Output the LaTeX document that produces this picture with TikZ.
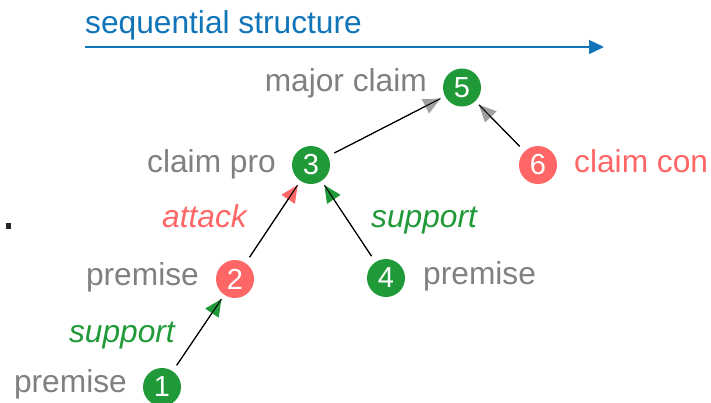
\documentclass[tikz,border=0pt]{standalone}
\usepackage{fontspec}
\setmainfont{Liberation Sans}
\usetikzlibrary{arrows.meta}
\definecolor{seqblue}{RGB}{16,116,184}
\definecolor{argreen}{RGB}{32,154,56}
\definecolor{arred}{RGB}{255,102,102}
\definecolor{argray}{RGB}{128,128,128}
\definecolor{headgray}{RGB}{160,160,160}
\tikzset{
  lbl/.style={inner sep=0pt, font=\fontsize{31.7}{36}\selectfont},
  graylbl/.style={lbl, text=argray},
  num/.style={circle, inner sep=0pt, minimum size=38pt, text=white, font=\fontsize{29}{32}\selectfont},
  greennum/.style={num, fill=argreen},
  rednum/.style={num, fill=arred},
  rel/.style={black, line width=1pt, shorten <=7pt, shorten >=5pt, postaction={draw, -}},
  gtip/.style={rel, -{Triangle[length=17pt,width=16pt,color=headgray]}},
  rtip/.style={rel, -{Triangle[length=17pt,width=16pt,color=arred]}},
  stip/.style={rel, -{Triangle[length=17pt,width=16pt,color=argreen]}}
}
\begin{document}
\begin{tikzpicture}[x=1pt,y=-1pt]
\useasboundingbox (0,0) rectangle (711,402);
% sequential structure
\node[lbl, text=seqblue, anchor=base west] (seq) at (85,33) {sequential structure};
\coordinate (seqa) at (85,47);
\coordinate (seqb) at (604,47);
\draw[seqblue, line width=1.5pt, -{Triangle[length=15pt,width=14pt]}] (seqa) -- (seqb);
% nodes
\node[greennum] (n5) at (462,87.5) {5};
\node[greennum] (n3) at (311,165) {3};
\node[rednum] (n6) at (538,165) {6};
\node[rednum] (n2) at (235,279) {2};
\node[greennum] (n4) at (386,278) {4};
\node[greennum] (n1) at (162,387) {1};
% labels
\node[graylbl, anchor=base east] (l5) at (427,91) {major claim};
\node[graylbl, anchor=base east] (l3) at (276,172) {claim pro};
\node[lbl, text=arred, anchor=base west] (l6) at (574,172) {claim con};
\node[graylbl, anchor=base east] (l2) at (199,285) {premise};
\node[graylbl, anchor=base west] (l4) at (423,284) {premise};
\node[graylbl, anchor=base east] (l1) at (127,392) {premise};
\node[lbl, text=arred, anchor=base east, font=\fontsize{31.7}{36}\itshape] (att) at (247,227) {attack};
\node[lbl, text=argreen, anchor=base west, font=\fontsize{31.7}{36}\itshape] (sup1) at (371,227) {support};
\node[lbl, text=argreen, anchor=base east, font=\fontsize{31.7}{36}\itshape] (sup2) at (175,342) {support};
% dot
\fill[black!85] (6,223) rectangle (11,229);
% relations
\draw[gtip] (n3) -- (n5);
\draw[gtip] (n6) -- (n5);
\draw[rtip] (n2) -- (n3);
\draw[stip] (n4) -- (n3);
\draw[stip] (n1) -- (n2);
\end{tikzpicture}
\end{document}
